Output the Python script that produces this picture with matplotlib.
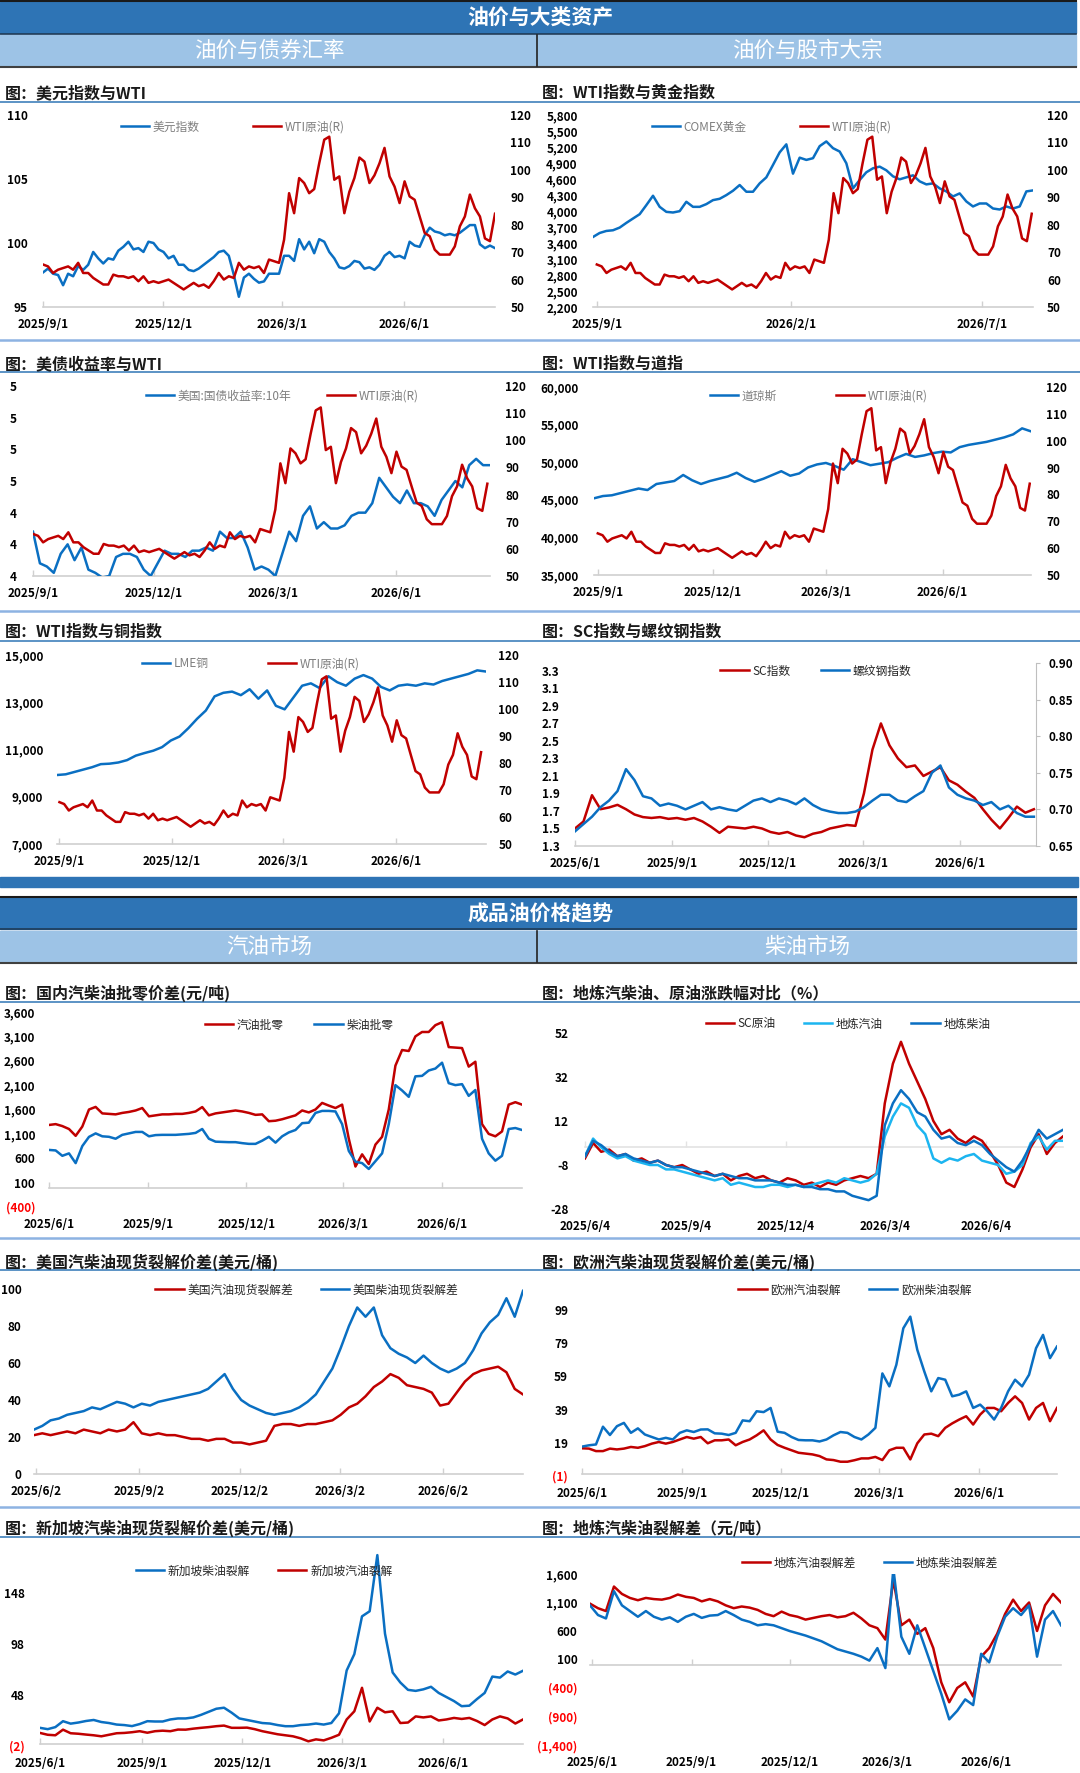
import pandas as pd
import numpy as np
import matplotlib
matplotlib.use('Agg')
import matplotlib.pyplot as plt
from matplotlib.patches import Rectangle
from matplotlib.lines import Line2D

plt.rcParams['font.family'] = ['Noto Sans CJK SC', 'DejaVu Sans']
plt.rcParams['axes.unicode_minus'] = False

# ---------------- data ----------------
# WTI crude, used in the four upper panels (right axis)
wti_span = ('2025-09-01', '2026-08-09')
wti_vals = [65.5, 64.8, 62.4, 63.6, 64.2, 64.8, 63.6, 66.1, 62.4, 62.4,
            60.6, 59.4, 58.2, 58.2, 61.8, 61.2, 61.2, 60.6, 61.2, 59.4,
            61.2, 58.8, 59.4, 58.8, 59.4, 60.0, 58.8, 57.6, 56.4, 57.6,
            58.8, 57.6, 58.2, 57.0, 59.4, 62.4, 60.0, 61.2, 60.6, 66.1,
            63.6, 64.8, 64.2, 64.8, 62.4, 67.3, 66.7, 66.1, 74.5, 91.5,
            84.2, 97.0, 95.2, 91.5, 93.0, 102.4, 111.0, 112.1, 96.4, 97.6,
            84.2, 92.0, 97.0, 104.5, 103.0, 95.2, 98.0, 102.4, 108.0, 97.6,
            93.9, 87.9, 95.8, 90.3, 89.1, 83.0, 77.0, 75.8, 70.9, 69.1,
            69.1, 69.1, 72.1, 79.4, 83.0, 91.0, 86.0, 83.0, 75.0, 74.0,
            84.0]

# dollar index
usd_vals = [97.7, 98.0, 97.6, 97.5, 96.7, 97.6, 97.4, 98.2, 97.9, 98.3,
            99.3, 98.8, 98.4, 98.8, 98.7, 99.4, 99.7, 100.1, 99.5, 99.6,
            99.3, 100.1, 100.0, 99.5, 99.3, 98.8, 99.0, 98.3, 98.3, 97.9,
            97.8, 98.0, 98.3, 98.6, 98.9, 99.3, 99.4, 99.0, 97.5, 95.8,
            97.3, 97.6, 97.2, 96.9, 97.0, 97.6, 97.6, 97.6, 99.0, 99.0,
            98.6, 100.3, 99.5, 100.1, 99.2, 100.3, 100.1, 99.3, 98.8, 98.1,
            98.0, 98.2, 98.6, 98.5, 98.0, 98.1, 97.9, 98.3, 99.0, 99.3,
            98.9, 99.0, 98.8, 100.1, 99.8, 99.7, 100.6, 101.2, 100.9, 100.8,
            100.6, 100.7, 100.6, 100.8, 101.1, 101.4, 101.4, 99.9, 99.6, 99.8,
            99.6]

# COMEX gold
gold_span = ('2025-08-29', '2026-08-10')
gold_vals = [3513, 3588, 3626, 3639, 3689, 3777, 3859, 3940, 4110, 4286,
             4078, 3984, 3972, 3997, 4173, 4078, 4078, 4129, 4204, 4229,
             4298, 4380, 4487, 4361, 4361, 4518, 4631, 4864, 5100, 5250,
             4700, 5000, 4958, 4990, 5216, 5304, 5178, 5115, 4895, 4424,
             4581, 4726, 4801, 4832, 4763, 4650, 4594, 4631, 4669, 4556,
             4499, 4518, 4424, 4367, 4273, 4330, 4179, 4085, 4141, 4141,
             4047, 4028, 4085, 4047, 4085, 4367, 4386]

# US 10y treasury yield
ust_span = ('2025-09-01', '2026-08-11')
ust_vals = [4.34, 4.24, 4.23, 4.21, 4.27, 4.30, 4.25, 4.29, 4.22, 4.21,
            4.195, 4.20, 4.26, 4.27, 4.27, 4.26, 4.22, 4.20, 4.24, 4.28,
            4.27, 4.27, 4.26, 4.28, 4.28, 4.29, 4.28, 4.34, 4.32, 4.32,
            4.34, 4.29, 4.22, 4.23, 4.22, 4.20, 4.27, 4.34, 4.31, 4.39,
            4.42, 4.35, 4.37, 4.35, 4.35, 4.36, 4.39, 4.40, 4.40, 4.43,
            4.51, 4.48, 4.45, 4.43, 4.47, 4.43, 4.43, 4.42, 4.39, 4.44,
            4.47, 4.50, 4.48, 4.55, 4.57, 4.55, 4.55]

# Dow Jones
dow_span = ('2025-08-29', '2026-08-10')
dow_vals = [45200, 45500, 45600, 45900, 46200, 46500, 46300, 47100, 47300, 47500,
            48300, 47600, 47100, 47500, 47800, 48100, 48600, 47900, 47400, 47800,
            48300, 48800, 48200, 48500, 49300, 49700, 49900, 49500, 49000, 50400,
            50000, 49600, 49800, 50000, 50600, 51100, 50700, 50900, 51200, 51400,
            51300, 52000, 52300, 52500, 52700, 53000, 53300, 53700, 54500, 54100]

# LME copper
copper_span = ('2025-08-30', '2026-08-13')
copper_vals = [9920, 9950, 10050, 10150, 10250, 10380, 10400, 10450, 10550, 10740,
               10850, 10950, 11100, 11380, 11550, 11900, 12300, 12650, 13250, 13400,
               13450, 13300, 13550, 13150, 13500, 12850, 12700, 13200, 13700, 13800,
               13600, 14100, 13850, 13700, 14000, 14150, 14000, 13650, 13500, 13700,
               13750, 13700, 13800, 13750, 13900, 14000, 14100, 14200, 14350, 14300]

# SC index (left) and rebar index (right)
sc_span = ('2025-06-01', '2026-08-10')
sc_vals = [1.50, 1.58, 1.88, 1.72, 1.74, 1.77, 1.72, 1.66, 1.63, 1.62,
           1.63, 1.61, 1.62, 1.60, 1.62, 1.58, 1.52, 1.45, 1.52, 1.51,
           1.50, 1.52, 1.50, 1.46, 1.44, 1.46, 1.42, 1.40, 1.44, 1.46,
           1.50, 1.52, 1.54, 1.53, 1.90, 2.40, 2.70, 2.45, 2.30, 2.20,
           2.22, 2.10, 2.15, 2.20, 2.05, 2.00, 1.92, 1.85, 1.72, 1.60,
           1.50, 1.62, 1.75, 1.68, 1.72]
rebar_vals = [0.670, 0.680, 0.690, 0.703, 0.712, 0.725, 0.755, 0.740, 0.718, 0.715,
              0.705, 0.708, 0.705, 0.700, 0.705, 0.710, 0.700, 0.703, 0.700, 0.698,
              0.705, 0.712, 0.715, 0.710, 0.715, 0.712, 0.707, 0.715, 0.706, 0.700,
              0.697, 0.695, 0.695, 0.697, 0.703, 0.712, 0.720, 0.720, 0.712, 0.710,
              0.718, 0.725, 0.750, 0.760, 0.730, 0.720, 0.715, 0.712, 0.706, 0.710,
              0.700, 0.705, 0.695, 0.690, 0.690]

# domestic wholesale-retail spread (yuan/t)
ws_span = ('2025-06-01', '2026-08-14')
gas_ws_vals = [1283, 1300, 1260, 1200, 1060, 1250, 1600, 1653, 1520, 1510,
               1500, 1530, 1550, 1580, 1630, 1460, 1480, 1500, 1500, 1510,
               1510, 1530, 1560, 1650, 1480, 1520, 1540, 1560, 1580, 1560,
               1530, 1490, 1500, 1360, 1370, 1400, 1440, 1480, 1580, 1540,
               1600, 1735, 1680, 1630, 1700, 1000, 430, 680, 480, 880,
               1040, 1600, 2500, 2820, 2800, 3100, 3190, 3190, 3330, 3390,
               2880, 2870, 2860, 2480, 2580, 1300, 1100, 1050, 1150, 1700,
               1750, 1700]
diesel_ws_vals = [771, 760, 650, 700, 500, 850, 1038, 1110, 1050, 1040,
                  1000, 1080, 1110, 1140, 1140, 1050, 1075, 1080, 1080, 1080,
                  1090, 1100, 1120, 1200, 1000, 940, 935, 930, 930, 910,
                  895, 895, 960, 1040, 920, 1050, 1130, 1180, 1320, 1330,
                  1530, 1571, 1571, 1560, 1300, 750, 530, 500, 380, 540,
                  700, 1300, 2100, 1990, 1860, 2280, 2290, 2400, 2440, 2560,
                  2140, 2100, 2120, 1880, 2000, 1000, 700, 550, 650, 1200,
                  1220, 1180]

# change comparison (%)
chg_span = ('2025-06-04', '2026-08-13')
chg_sc = [-5, 2, -2, -1, -4, -3, -6, -5, -7, -6,
          -8, -9, -8, -10, -12, -11, -13, -12, -15, -13,
          -12, -14, -13, -15, -16, -14, -15, -17, -16, -18,
          -16, -17, -15, -14, -13, -14, -12, 20, 38, 48,
          38, 30, 22, 12, 6, 8, 4, 2, 5, 3,
          -2, -8, -16, -18, -10, 0, 6, -3, 2, 5]
chg_gas = [-4, 4, 0, -3, -5, -4, -6, -7, -8, -8,
           -10, -10, -11, -12, -13, -14, -15, -14, -17, -16,
           -17, -18, -18, -17, -17, -18, -17, -18, -17, -16,
           -15, -16, -14, -15, -16, -15, -12, 5, 14, 20,
           18, 10, 6, -5, -7, -5, -6, -4, -3, -6,
           -7, -8, -12, -11, -8, 2, 5, -1, 3, 3]
chg_diesel = [-4, 3, 1, -2, -4, -3, -5, -6, -7, -6,
              -8, -9, -9, -10, -11, -12, -13, -12, -13, -14,
              -14, -15, -15, -15, -16, -17, -17, -18, -18, -19,
              -19, -20, -20, -22, -23, -24, -22, 10, 20, 26,
              22, 16, 14, 8, 4, 5, 2, 1, 3, 1,
              -3, -6, -9, -11, -6, 1, 8, 4, 6, 8]

# US cracks ($/bbl)
us_span = ('2025-05-31', '2026-08-13')
us_gas = [21, 22, 21, 22, 23, 22, 24, 23, 22, 24,
          23, 24, 28, 22, 21, 22, 21, 21, 20, 19,
          19, 18, 19, 19, 17, 17, 16, 17, 18, 26,
          27, 27, 26, 27, 27, 28, 29, 32, 36, 38,
          42, 47, 50, 54, 52, 48, 47, 46, 44, 37,
          38, 44, 50, 54, 56, 57, 58, 55, 46, 43]
us_diesel = [24, 26, 29, 30, 32, 33, 34, 36, 35, 37,
             39, 38, 36, 38, 37, 39, 40, 41, 42, 43,
             44, 46, 50, 54, 46, 40, 37, 35, 33, 32,
             33, 34, 36, 39, 43, 50, 57, 68, 80, 90,
             85, 90, 75, 68, 65, 63, 60, 64, 60, 57,
             55, 57, 60, 67, 76, 82, 86, 95, 85, 99]

# European cracks ($/bbl)
eu_span = ('2025-06-01', '2026-08-12')
eu_gas = [15.7, 15.5, 14.0, 14.0, 15.5, 15.0, 15.5, 16.5, 16.0, 17.0,
          18.5, 19.5, 18.5, 19.5, 21.0, 22.5, 21.5, 22.5, 18.7, 20.5,
          20.5, 21.0, 17.5, 19.5, 21.0, 23.5, 26.5, 21.0, 17.7, 16.0,
          14.5, 13.0, 12.5, 12.0, 11.0, 9.0, 8.6, 7.6, 7.6, 8.5,
          9.6, 9.6, 10.5, 8.6, 14.5, 16.0, 16.0, 9.0, 18.7, 24.0,
          24.5, 23.0, 28.0, 30.7, 33, 35, 30, 36, 40, 40,
          38, 43, 47, 43, 33, 40, 43, 32, 40]
eu_diesel = [16.7, 17.5, 18.0, 28.7, 23.7, 29.0, 31.0, 25.0, 27.7, 24.0,
             22.5, 21.0, 22.0, 21.0, 25.0, 26.5, 25.5, 27.0, 27.1, 24.7,
             24.5, 23.7, 25.0, 32.5, 32.0, 38.0, 37.5, 40.0, 25.7, 25.0,
             22.5, 20.7, 20.5, 20.5, 19.8, 21.0, 23.5, 25.5, 25.0, 22.5,
             21.0, 24.0, 28.0, 60.8, 53.0, 66.0, 88.0, 95.0, 75.0, 62.0,
             50.0, 58.0, 57.0, 47.0, 48, 50, 40, 42, 38, 33,
             40, 50, 57, 53, 60, 76, 84, 70, 77]

# Singapore cracks ($/bbl)
sg_span = ('2025-06-01', '2026-08-12')
sg_diesel = [15.8, 14.5, 16.5, 22.3, 19.9, 21.0, 22.5, 23.5, 21.5, 20.5,
             19.0, 18.5, 17.5, 19.5, 22.3, 22.0, 22.0, 24.0, 25.0, 25.0,
             26.0, 28.5, 31.5, 34.5, 35.5, 30.6, 25.0, 23.5, 22.0, 20.5,
             20.0, 18.5, 17.4, 17.4, 18.5, 19.0, 20.0, 19.0, 20.5, 30.0,
             72.0, 88.0, 125.0, 130.0, 185.0, 108.0, 70.0, 60.2, 53.0, 52.0,
             53.5, 56.0, 50.0, 46.0, 42.0, 37.0, 37.5, 44.0, 50.0, 66.0,
             65.0, 71.0, 68.0, 71.7]
sg_gas = [10.8, 9.0, 8.5, 14.0, 10.5, 10.0, 9.2, 8.5, 7.5, 9.0,
          10.5, 10.8, 11.5, 12.5, 11.0, 12.5, 13.0, 12.5, 14.1, 14.0,
          15.0, 15.8, 16.5, 17.4, 18.0, 15.8, 15.8, 16.0, 14.5, 12.5,
          11.0, 9.5, 8.5, 7.5, 5.5, 2.6, 4.5, 3.5, 6.0, 9.0,
          24.0, 32.0, 55.0, 22.0, 35.5, 31.0, 32.0, 20.5, 21.0, 27.0,
          26.0, 27.0, 23.0, 24.0, 25.5, 24.5, 25.5, 22.5, 18.5, 24.0,
          27.0, 25.0, 20.0, 24.0]

# local refinery cracks (yuan/t)
loc_span = ('2025-05-30', '2026-08-09')
loc_gas = [1080, 1000, 950, 1380, 1250, 1180, 1140, 1180, 1160, 1150,
           1180, 1240, 1200, 1180, 1120, 1160, 1120, 1050, 1000, 1030,
           1010, 970, 900, 860, 940, 880, 850, 800, 830, 860,
           880, 840, 860, 920, 820, 700, 650, 450, 1500, 700,
           800, 550, 650, 300, -300, -650, -400, -300, -550, 150,
           300, 550, 900, 1150, 950, 1100, 600, 1050, 1250, 1100]
loc_diesel = [1050, 880, 820, 1300, 1050, 950, 850, 950, 850, 800,
              840, 760, 850, 900, 830, 870, 880, 950, 880, 800,
              760, 700, 720, 700, 650, 600, 560, 520, 470, 420,
              350, 280, 240, 200, 150, 80, 300, -50, 1700, 500,
              200, 700, 300, -100, -500, -950, -800, -600, -700, 200,
              50, 500, 850, 1000, 880, 1050, 150, 800, 950, 700]

# x tick labels
ticks_sep = ['2025/9/1', '2025/12/1', '2026/3/1', '2026/6/1']
ticks_gold = ['2025/9/1', '2026/2/1', '2026/7/1']
ticks_jun = ['2025/6/1', '2025/9/1', '2025/12/1', '2026/3/1', '2026/6/1']
ticks_chg = ['2025/6/4', '2025/9/4', '2025/12/4', '2026/3/4', '2026/6/4']
ticks_us = ['2025/6/2', '2025/9/2', '2025/12/2', '2026/3/2', '2026/6/2']

# ---------------- layout helpers ----------------
W, H = 1080, 1773
BLUE = '#0a6fc2'
RED = '#c00000'
CYAN = '#1cb5f0'
DARK_HDR = '#2e74b5'
LIGHT_HDR = '#9dc3e6'
AXIS_GREY = '#d0d0d0'
LW = 1.8

fig = plt.figure(figsize=(W / 100, H / 100), dpi=100)


def fx(px):
    return px / W


def fy(py):
    return 1 - py / H


def band(y0, y1, color, x0=0, x1=1076):
    fig.patches.append(Rectangle((fx(x0), fy(y1)), fx(x1) - fx(x0), fy(y0) - fy(y1),
                                 transform=fig.transFigure, color=color, zorder=0))


def hline(y, color, lw, x0=0, x1=W):
    fig.add_artist(Line2D([fx(x0), fx(x1)], [fy(y), fy(y)], transform=fig.transFigure,
                          color=color, lw=lw))


def vline(x, y0, y1, color='#222222', lw=1.2):
    fig.add_artist(Line2D([fx(x), fx(x)], [fy(y0), fy(y1)], transform=fig.transFigure,
                          color=color, lw=lw))


def header(y_top, title, left, right):
    hline(y_top + 1, '#1a1a1a', 1.5, 0, 1076)
    band(y_top + 2, y_top + 33, DARK_HDR)
    hline(y_top + 33.5, '#1f3b57', 1.2, 0, 1076)
    band(y_top + 35, y_top + 66, LIGHT_HDR)
    hline(y_top + 67, '#404040', 1.5, 0, 1076)
    vline(537, y_top + 35, y_top + 66)
    fig.text(fx(540), fy(y_top + 18), title, color='white', fontsize=15,
             fontweight='bold', ha='center', va='center')
    fig.text(fx(269), fy(y_top + 51), left, color='white', fontsize=15.5,
             ha='center', va='center')
    fig.text(fx(807), fy(y_top + 51), right, color='white', fontsize=15.5,
             ha='center', va='center')


def num_label(v, dec=0):
    s = f'{abs(v):,.{dec}f}'
    return f'({s})' if v < 0 else s


def new_axes(box, xlim):
    x0, x1, ytop, ybot = box
    ax = fig.add_axes([fx(x0), fy(ybot), (x1 - x0) / W, (ybot - ytop) / H])
    ax.set_facecolor('none')
    for s in ax.spines.values():
        s.set_visible(False)
    ax.set_xlim(pd.Timestamp(xlim[0]), pd.Timestamp(xlim[1]))
    return ax


def set_y(ax, ticks, lim, labels=None, dec=0, pad=10):
    ax.set_ylim(*lim)
    if labels is None:
        labels = [num_label(v, dec) for v in ticks]
    ax.set_yticks(ticks, labels)
    ax.tick_params(axis='y', length=0, pad=pad, labelsize=8.5)
    for t, v, s in zip(ax.get_yticklabels(), ticks, labels):
        t.set_fontweight('bold')
        if v < 0 and s.startswith('('):
            t.set_color('#ff0000')


def set_x(ax, ticks, box, zero=False, axis_color=AXIS_GREY):
    tk = pd.to_datetime(ticks)
    ax.set_xticks(tk, ticks)
    sp = ax.spines['bottom']
    sp.set_visible(True)
    sp.set_color(axis_color)
    sp.set_linewidth(1.2)
    sp.set_zorder(0.5)
    pad_px = 11
    if zero:
        sp.set_position(('data', 0))
        lo, hi = ax.get_ylim()
        pad_px += (0 - lo) / (hi - lo) * (box[3] - box[2])
    ax.tick_params(axis='x', direction='in', length=4, color=axis_color, width=1,
                   labelsize=8.5, pad=pad_px * 0.72)
    for t in ax.get_xticklabels():
        t.set_fontweight('bold')


def series(ax, span, vals, color, lw=LW):
    d = pd.date_range(span[0], span[1], periods=len(vals))
    return ax.plot(d, vals, color=color, lw=lw, solid_joinstyle='round', zorder=2)[0]


def legend(ax, lines, labels, cx, cy, color, colsp=2.2):
    ax.legend(lines, labels, loc='center', bbox_to_anchor=(fx(cx), fy(cy)),
              bbox_transform=fig.transFigure, ncol=len(lines), frameon=False,
              fontsize=8.5, handlelength=2.4, handletextpad=0.3,
              columnspacing=colsp, labelcolor=color)


def title(x, y, s):
    fig.text(fx(x), fy(y), s, fontsize=11.5, fontweight='bold', ha='left',
             va='center', color='#1a1a1a')


def twin(ax):
    ax2 = ax.twinx()
    for s in ax2.spines.values():
        s.set_visible(False)
    return ax2


# ---------------- headers & separators ----------------
header(0, '油价与大类资产', '油价与债券汇率', '油价与股市大宗')
band(877, 887, DARK_HDR, 0, 1078)
header(896, '成品油价格趋势', '汽油市场', '柴油市场')

UL = '#2f75b5'
SEP = '#8db3e2'
for yy in [102, 372, 641, 1002, 1270, 1537]:
    hline(yy, UL, 1.1)
for yy in [340, 611, 1238, 1507]:
    hline(yy, SEP, 1.8)

title(5, 93, '图：美元指数与WTI')
title(542, 93, '图：WTI指数与黄金指数')
title(5, 364, '图：美债收益率与WTI')
title(542, 364, '图：WTI指数与道指')
title(5, 632, '图：WTI指数与铜指数')
title(542, 632, '图：SC指数与螺纹钢指数')
title(5, 993, '图：国内汽柴油批零价差(元/吨)')
title(542, 993, '图：地炼汽柴油、原油涨跌幅对比（%）')
title(5, 1262, '图：美国汽柴油现货裂解价差(美元/桶)')
title(542, 1262, '图：欧洲汽柴油现货裂解价差(美元/桶)')
title(5, 1528, '图：新加坡汽柴油现货裂解价差(美元/桶)')
title(542, 1528, '图：地炼汽柴油裂解差（元/吨）')

GREY_TXT = '#7f7f7f'
DARK_TXT = '#262626'
wti_ticks = [50, 60, 70, 80, 90, 100, 110, 120]

# ---------------- P1 dollar index vs WTI ----------------
box = (43, 495, 115, 307)
ax = new_axes(box, ('2025-09-01', '2026-08-09'))
l1 = series(ax, wti_span, usd_vals, BLUE)
set_y(ax, [95, 100, 105, 110], (95, 110), pad=11)
set_x(ax, ticks_sep, box)
ax2 = twin(ax)
l2 = series(ax2, wti_span, wti_vals, RED)
set_y(ax2, wti_ticks, (50, 120), pad=11)
legend(ax2, [l1, l2], ['美元指数', 'WTI原油(R)'], 233, 127, GREY_TXT, 4.5)

# ---------------- P2 gold vs WTI ----------------
box = (593, 1033, 115, 307)
ax = new_axes(box, ('2025-08-29', '2026-08-10'))
l1 = series(ax, gold_span, gold_vals, BLUE)
gold_ticks = [2200, 2500, 2800, 3100, 3400, 3700, 4000, 4300, 4600, 4900, 5200, 5500, 5800]
set_y(ax, gold_ticks, (2200, 5800), pad=11)
set_x(ax, ticks_gold, box)
ax2 = twin(ax)
l2 = series(ax2, wti_span, wti_vals, RED)
set_y(ax2, wti_ticks, (50, 120), pad=10)
legend(ax2, [l1, l2], ['COMEX黄金', 'WTI原油(R)'], 772, 127, GREY_TXT, 4.5)

# ---------------- P3 treasury yield vs WTI ----------------
box = (33, 490, 386, 576)
ax = new_axes(box, ('2025-09-01', '2026-08-11'))
l1 = series(ax, ust_span, ust_vals, BLUE)
set_y(ax, [4.2, 4.3, 4.4, 4.5, 4.6, 4.7, 4.8], (4.2, 4.8),
      labels=['4', '4', '4', '5', '5', '5', '5'], pad=12)
set_x(ax, ticks_sep, box)
ax2 = twin(ax)
l2 = series(ax2, wti_span, wti_vals, RED)
set_y(ax2, wti_ticks, (50, 120), pad=11)
legend(ax2, [l1, l2], ['美国:国债收益率:10年', 'WTI原油(R)'], 282, 396, GREY_TXT, 3.0)

# ---------------- P4 Dow vs WTI ----------------
box = (594, 1031, 387, 575)
ax = new_axes(box, ('2025-08-29', '2026-08-10'))
l1 = series(ax, dow_span, dow_vals, BLUE)
set_y(ax, [35000, 40000, 45000, 50000, 55000, 60000], (35000, 60000), pad=11)
set_x(ax, ticks_sep, box)
ax2 = twin(ax)
l2 = series(ax2, wti_span, wti_vals, RED)
set_y(ax2, wti_ticks, (50, 120), pad=11)
legend(ax2, [l1, l2], ['道琼斯', 'WTI原油(R)'], 819, 396, GREY_TXT, 5.0)

# ---------------- P5 copper vs WTI ----------------
box = (57, 486, 655, 844)
ax = new_axes(box, ('2025-08-30', '2026-08-13'))
l1 = series(ax, copper_span, copper_vals, BLUE)
set_y(ax, [7000, 9000, 11000, 13000, 15000], (7000, 15000), pad=10)
set_x(ax, ticks_sep, box)
ax2 = twin(ax)
l2 = series(ax2, wti_span, wti_vals, RED)
set_y(ax2, wti_ticks, (50, 120), pad=9)
legend(ax2, [l1, l2], ['LME铜', 'WTI原油(R)'], 251, 664, GREY_TXT, 5.0)

# ---------------- P6 SC vs rebar ----------------
box = (575, 1036, 663, 846)
ax = new_axes(box, ('2025-06-01', '2026-08-12'))
l1 = series(ax, sc_span, sc_vals, RED)
set_y(ax, [1.3, 1.5, 1.7, 1.9, 2.1, 2.3, 2.5, 2.7, 2.9, 3.1, 3.3], (1.3, 3.39), dec=1, pad=11)
set_x(ax, ticks_jun, box)
ax2 = twin(ax)
l2 = series(ax2, sc_span, rebar_vals, BLUE)
set_y(ax2, [0.65, 0.70, 0.75, 0.80, 0.85, 0.90], (0.65, 0.90), dec=2, pad=6)
ax2.spines['right'].set_visible(True)
ax2.spines['right'].set_color('#bfbfbf')
ax2.tick_params(axis='y', direction='out', length=3, color='#bfbfbf')
legend(ax2, [l1, l2], ['SC指数', '螺纹钢指数'], 816, 671, DARK_TXT, 2.6)

# ---------------- P7 domestic wholesale-retail spread ----------------
box = (49, 522, 1012, 1207)
ax = new_axes(box, ('2025-06-01', '2026-08-14'))
l1 = series(ax, ws_span, gas_ws_vals, RED)
l2 = series(ax, ws_span, diesel_ws_vals, BLUE)
set_y(ax, [-400, 100, 600, 1100, 1600, 2100, 2600, 3100, 3600], (-400, 3600), pad=10)
set_x(ax, ticks_jun, box, zero=True)
legend(ax, [l1, l2], ['汽油批零', '柴油批零'], 299, 1025, DARK_TXT, 2.6)

# ---------------- P8 change comparison ----------------
box = (585, 1063, 1033, 1209)
ax = new_axes(box, ('2025-06-04', '2026-08-13'))
l1 = series(ax, chg_span, chg_sc, RED)
l2 = series(ax, chg_span, chg_gas, CYAN)
l3 = series(ax, chg_span, chg_diesel, BLUE)
set_y(ax, [-28, -8, 12, 32, 52], (-28, 52), labels=['-28', '-8', '12', '32', '52'], pad=12)
set_x(ax, ticks_chg, box, zero=True, axis_color='#e3e3e3')
legend(ax, [l1, l2, l3], ['SC原油', '地炼汽油', '地炼柴油'], 848, 1024, DARK_TXT, 2.4)

# ---------------- P9 US cracks ----------------
box = (34, 523, 1289, 1474)
ax = new_axes(box, ('2025-05-31', '2026-08-13'))
l1 = series(ax, us_span, us_gas, RED)
l2 = series(ax, us_span, us_diesel, BLUE)
set_y(ax, [0, 20, 40, 60, 80, 100], (0, 100), pad=9)
set_x(ax, ticks_us, box)
legend(ax, [l1, l2], ['美国汽油现货裂解差', '美国柴油现货裂解差'], 307, 1290, DARK_TXT, 2.4)

# ---------------- P10 European cracks ----------------
box = (582, 1057, 1310, 1476)
ax = new_axes(box, ('2025-06-01', '2026-08-12'))
l1 = series(ax, eu_span, eu_gas, RED)
l2 = series(ax, eu_span, eu_diesel, BLUE)
set_y(ax, [-1, 19, 39, 59, 79, 99], (-1, 99), pad=10)
set_x(ax, ticks_jun, box, zero=True)
legend(ax, [l1, l2], ['欧洲汽油裂解', '欧洲柴油裂解'], 855, 1290, DARK_TXT, 2.4)

# ---------------- P11 Singapore cracks ----------------
box = (40, 523, 1550, 1746)
ax = new_axes(box, ('2025-06-01', '2026-08-12'))
l1 = series(ax, sg_span, sg_diesel, BLUE)
l2 = series(ax, sg_span, sg_gas, RED)
set_y(ax, [-2, 48, 98, 148], (-2, 190), pad=11)
set_x(ax, ticks_jun, box, zero=True)
legend(ax, [l1, l2], ['新加坡柴油裂解', '新加坡汽油裂解'], 264, 1571, DARK_TXT, 2.4)

# ---------------- P12 local refinery cracks ----------------
box = (590, 1061, 1574, 1745)
ax = new_axes(box, ('2025-05-30', '2026-08-09'))
l1 = series(ax, loc_span, loc_gas, RED)
l2 = series(ax, loc_span, loc_diesel, BLUE)
set_y(ax, [-1400, -900, -400, 100, 600, 1100, 1600], (-1400, 1600), pad=9)
set_x(ax, ticks_jun, box, zero=True)
legend(ax, [l1, l2], ['地炼汽油裂解差', '地炼柴油裂解差'], 870, 1563, DARK_TXT, 2.4)

fig.savefig('out.png', dpi=100, facecolor='white')
